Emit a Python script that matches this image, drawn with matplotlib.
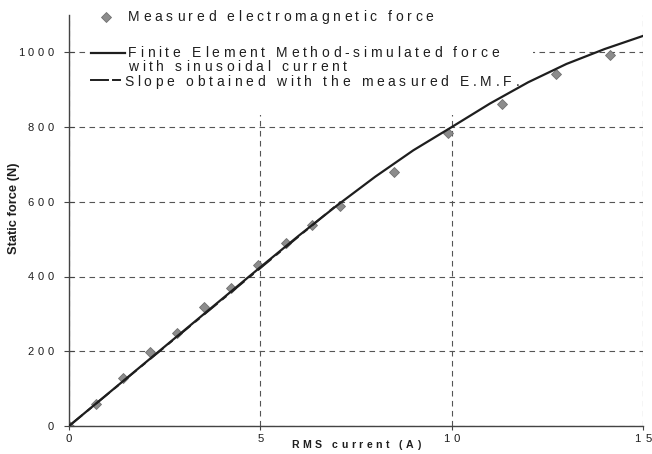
import matplotlib
matplotlib.use("Agg")
import matplotlib.pyplot as plt
from matplotlib.font_manager import FontProperties, findfont, get_font
from matplotlib.patches import Rectangle
from matplotlib.lines import Line2D

# Measured electromagnetic force (RMS current in A, force in N)
measured_current = [0, 0.71, 1.41, 2.12, 2.83, 3.54, 4.24, 4.95, 5.66, 6.36, 7.07,
                    8.49, 9.90, 11.31, 12.73, 14.14]
measured_force = [0, 59, 128, 199, 248, 318, 369, 431, 489, 538, 590,
                  681, 784, 862, 942, 993]

# FEM-simulated force with sinusoidal current
fem_current = [0, 1, 2, 3, 4, 5, 6, 7, 8, 9, 10, 11, 12, 13, 14, 15]
fem_force = [0, 85, 170, 255, 340, 425, 509, 590, 667, 738, 800, 863, 920, 969, 1009, 1044]

# slope from the measured E.M.F.
slope_current = [0, 7.1]
slope_force = [0, 600]

x_ticks = [0, 5, 10, 15]
y_ticks = [0, 200, 400, 600, 800, 1000]

legend_labels = ["Measured electromagnetic force",
                 "Finite Element Method-simulated force",
                 "with sinusoidal current",
                 "Slope obtained with the measured E.M.F."]

W, H, DPI = 652, 454, 100
INK = "#1e1e1e"
FAMILY = "Liberation Sans"

fig = plt.figure(figsize=(W / DPI, H / DPI), dpi=DPI)
fig.patch.set_facecolor("white")
ax = fig.add_axes([69 / W, (H - 426) / H, (643 - 69) / W, (426 - 15) / H])


def tracked_text(x, y, s, size, track, weight="normal", ha="left"):
    # letter-spaced text; x, y in pixels from top-left, y on the baseline
    prop = FontProperties(family=FAMILY, size=size, weight=weight)
    font = get_font(findfont(prop))
    font.set_size(size, DPI)
    adv = [font.load_char(ord(c)).linearHoriAdvance / 65536 for c in s]
    total = sum(adv) + track * (len(s) - 1)
    if ha == "center":
        x -= total / 2
    elif ha == "right":
        x -= total
    for c, a in zip(s, adv):
        fig.text(x / W, 1 - y / H, c, fontproperties=prop, color=INK,
                 ha="left", va="baseline")
        x += a + track


def to_px(xv, yv):
    dx, dy = ax.transData.transform((xv, yv))
    return dx, H - dy


ax.set_xlim(0, 15)
ax.set_ylim(0, 1100)
ax.set_xticks(x_ticks)
ax.set_yticks(y_ticks)
ax.set_xticklabels([])
ax.set_yticklabels([])
ax.tick_params(axis="y", direction="inout", length=7, width=0.8, color="#444444")
ax.tick_params(axis="x", direction="out", length=3, width=0.8, color="#444444")
for side in ["top", "right"]:
    ax.spines[side].set_visible(False)
for side in ["left", "bottom"]:
    ax.spines[side].set_color("#444444")
    ax.spines[side].set_linewidth(1.0)

ax.set_axisbelow(True)
ax.grid(True, color="#555555", linewidth=0.8, linestyle=(0, (5, 4)))

# white legend area hides the grid behind it
ax.add_patch(Rectangle((88 / W, 1 - 115 / H), (533 - 88) / W, (115 - 15) / H,
                       transform=fig.transFigure, facecolor="white",
                       edgecolor="none", zorder=1))

ax.plot(measured_current, measured_force, linestyle="none", marker="D",
        markersize=5.2, markerfacecolor="#8c8c8c", markeredgecolor="#707070",
        markeredgewidth=0.6, zorder=2)
ax.plot(slope_current, slope_force, color=INK, linewidth=1.4,
        linestyle=(0, (9, 3, 3, 3)), zorder=3)
ax.plot(fem_current, fem_force, color=INK, linewidth=1.6, zorder=4)

# tick labels
for t in x_ticks:
    px, py = to_px(t, 0)
    tracked_text(px, 442, str(t), 8.2, 4.5, ha="center")
for t in y_ticks:
    px, py = to_px(0, t)
    tracked_text(53.5, py + 3.9, str(t), 8, 3.6, ha="right")

# axis titles
tracked_text(356, 448, "RMS current (A)", 7.6, 3.5, weight="bold", ha="center")
fig.text(14 / W, 1 - 208 / H, "Static force (N)", rotation=90, fontsize=9.3,
         fontweight="bold", family=FAMILY, color=INK, ha="center", va="center")

# legend
fig.add_artist(Line2D([106 / W], [1 - 16.7 / H], marker="D", markersize=5.2,
                      markerfacecolor="#8c8c8c", markeredgecolor="#707070",
                      markeredgewidth=0.6, linestyle="none",
                      transform=fig.transFigure))
fig.add_artist(Line2D([90.7 / W, 125 / W], [1 - 53.3 / H] * 2, color=INK,
                      linewidth=1.6, transform=fig.transFigure))
fig.add_artist(Line2D([90.7 / W, 108.3 / W], [1 - 80 / H] * 2, color=INK,
                      linewidth=1.4, transform=fig.transFigure))
fig.add_artist(Line2D([113 / W, 120 / W], [1 - 80 / H] * 2, color=INK,
                      linewidth=1.4, transform=fig.transFigure))
legend_pos = [(128, 21), (128, 57.3), (128, 71), (124, 86)]
for (lx, ly), label in zip(legend_pos, legend_labels):
    tracked_text(lx, ly, label, 10, 3.7)

fig.savefig("out.png", dpi=DPI, facecolor="white")
